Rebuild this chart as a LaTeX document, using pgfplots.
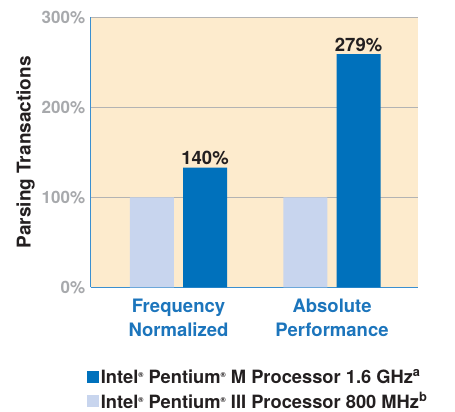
\documentclass[border=0pt]{standalone}
\usepackage{fontspec}
\setmainfont{TeX Gyre Heros}
\usepackage{pgfplots}
\pgfplotsset{compat=1.18}
\definecolor{darkbar}{HTML}{0071BC}
\definecolor{lightbar}{HTML}{C8D5EE}
\definecolor{bgc}{HTML}{FDEBCD}
\definecolor{tickgray}{HTML}{A7A9AC}
\definecolor{catblue}{HTML}{1C75BC}
\definecolor{axblue}{HTML}{3A8FD0}
\definecolor{gridgray}{HTML}{B3B3B3}
\definecolor{txt}{HTML}{231F20}
\newcommand{\reg}{\raisebox{0.55ex}{\fontsize{7}{7}\selectfont ®}}
\begin{document}
\begin{tikzpicture}
\begin{axis}[
  scale only axis, width=327.6pt, height=270pt,
  xmin=-0.572, xmax=1.562, ymin=0, ymax=300,
  axis x line*=bottom, axis y line*=left,
  x axis line style={axblue, line width=1.5pt},
  y axis line style={axblue, line width=1.5pt},
  axis background/.style={fill=bgc},
  ytick={0,100,200,300},
  yticklabel={\pgfmathprintnumber{\tick}\%},
  /pgf/number format/assume math mode=true,
  yticklabel style={font=\fontsize{17}{17}\selectfont\bfseries, text=tickgray, xshift=-2pt},
  xtick={0,1},
  xticklabels={Frequency\\Normalized, Absolute\\Performance},
  xticklabel style={font=\fontsize{18.5}{24}\selectfont\bfseries, text=catblue, align=center, yshift=-8pt},
  major tick length=0pt,
  ymajorgrids, grid style={gridgray, line width=1.2pt},
  ylabel={Parsing Transactions},
  ylabel style={font=\fontsize{19}{19}\selectfont\bfseries, text=txt, yshift=0pt},
  bar width=0.287, bar shift=0pt,
  legend style={at={(axis description cs:0,0)}, anchor=north west, xshift=-4pt, yshift=-80pt,
    draw=none, fill=none, inner sep=0pt, row sep=4pt,
    font=\fontsize{18.3}{18.3}\selectfont\bfseries, text=txt},
  legend cell align=left,
  legend image code/.code={\fill[#1] (0pt,-6pt) rectangle (12pt,6pt);},
]
\addplot[ybar, fill=lightbar, draw=none, forget plot] coordinates {(-0.173,100) (0.827,100)};
\addplot[ybar, fill=darkbar, draw=none,
  point meta=explicit symbolic, nodes near coords,
  nodes near coords style={font=\fontsize{18.5}{18.5}\selectfont\bfseries, text=txt, yshift=-1pt}]
  coordinates {(0.173,133) [140\%] (1.173,259) [279\%]};
\addlegendentry{Intel\reg\ Pentium\reg\ M Processor 1.6 GHz\textsuperscript{a}}
\addlegendimage{fill=lightbar, draw=none}
\addlegendentry{Intel\reg\ Pentium\reg\ III Processor 800 MHz\textsuperscript{b}}
\end{axis}
\pgfresetboundingbox
\path (current axis.south west) ++(-90.7pt,-124.7pt) rectangle ++(455pt,412pt);
\end{tikzpicture}
\end{document}
